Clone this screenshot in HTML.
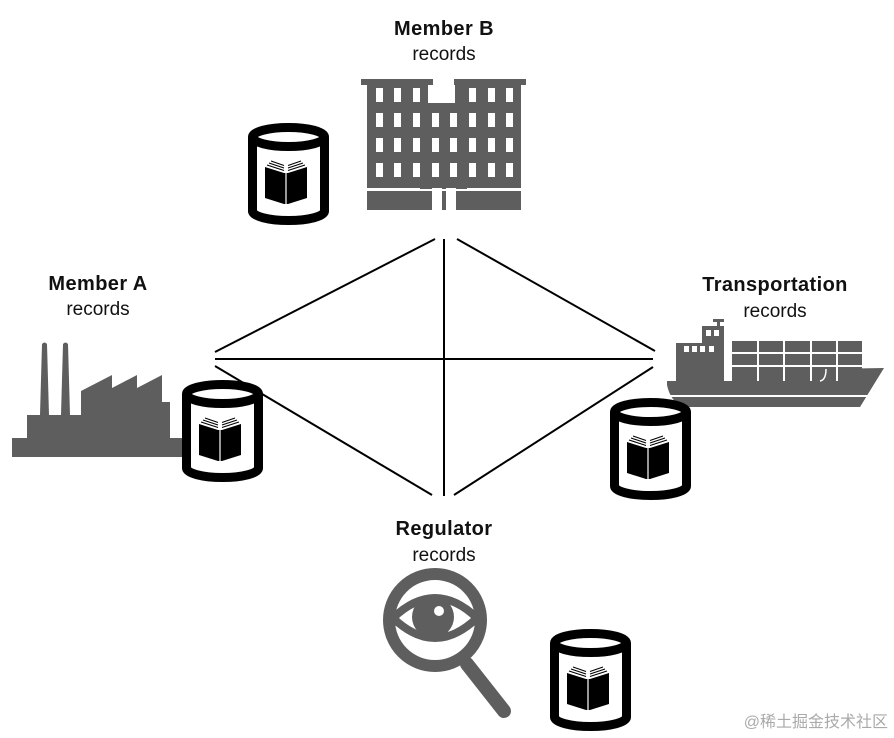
<!DOCTYPE html>
<html><head><meta charset="utf-8"><style>
html,body{margin:0;padding:0;background:#fff;}
svg{display:block;}
text{font-family:"Liberation Sans",Arial,sans-serif;fill:#111;}
.b{font-weight:bold;font-size:20px;letter-spacing:0.4px;}
.r{font-size:19px;}
</style></head><body>
<svg width="894" height="738" viewBox="0 0 894 738" xmlns="http://www.w3.org/2000/svg">
<defs>
<g id="cyl">
  <path d="M4.5 14 V88 A36 9.5 0 0 0 76.5 88 V14" fill="#fff" stroke="#000" stroke-width="9"/>
  <ellipse cx="40.5" cy="14" rx="36" ry="9.5" fill="#fff" stroke="#000" stroke-width="9"/>
  <!-- book -->
  <path d="M17 44 L36 50 L36 81 L17 75 Z" fill="#000"/>
  <path d="M40 50 L59 44 L59 75 L40 81 Z" fill="#000"/>
  <rect x="36" y="50" width="4" height="31" fill="#000"/>
  <rect x="37.4" y="50" width="1.2" height="31" fill="#fff"/>
  <path d="M19 42 L36 47.5 M40 47.5 L57 42" stroke="#000" stroke-width="1.1" fill="none"/>
  <path d="M21 40 L36 45 M40 45 L55 40" stroke="#000" stroke-width="1.1" fill="none"/>
  <path d="M23 38 L36 42.5 M40 42.5 L53 38" stroke="#000" stroke-width="1.1" fill="none"/>
</g>
</defs>

<!-- connectors -->
<g stroke="#000" stroke-width="2" fill="none">
  <line x1="444" y1="239" x2="444" y2="496"/>
  <line x1="435" y1="239" x2="215" y2="352"/>
  <line x1="457" y1="239" x2="655" y2="351"/>
  <line x1="215" y1="359" x2="653" y2="359"/>
  <line x1="215" y1="366" x2="432" y2="495"/>
  <line x1="653" y1="367" x2="454" y2="495"/>
</g>

<!-- labels -->
<text class="b" x="444" y="35" text-anchor="middle">Member B</text>
<text class="r" x="444" y="60" text-anchor="middle">records</text>
<text class="b" x="98" y="290" text-anchor="middle">Member A</text>
<text class="r" x="98" y="315" text-anchor="middle">records</text>
<text class="b" x="775" y="291" text-anchor="middle">Transportation</text>
<text class="r" x="775" y="317" text-anchor="middle">records</text>
<text class="b" x="444" y="535" text-anchor="middle">Regulator</text>
<text class="r" x="444" y="561" text-anchor="middle">records</text>

<!-- building -->
<g fill="#5e5e5e">
  <rect x="361" y="79" width="72" height="6"/>
  <rect x="367" y="84" width="61" height="105"/>
  <rect x="454" y="79" width="72" height="6"/>
  <rect x="455" y="84" width="66" height="105"/>
  <rect x="427" y="103" width="30" height="86"/>
  <rect x="367" y="191" width="154" height="19"/>
</g>
<g fill="#fff">
  <rect x="367" y="188" width="53" height="3"/>
  <rect x="467" y="188" width="54" height="3"/>
  <rect x="432" y="188" width="10" height="22"/>
  <rect x="446" y="188" width="10" height="22"/>
</g>
<g fill="#fff">
  <rect x="376" y="88" width="7" height="14"/><rect x="394" y="88" width="7" height="14"/><rect x="413" y="88" width="7" height="14"/>
  <rect x="469" y="88" width="7" height="14"/><rect x="488" y="88" width="7" height="14"/><rect x="506" y="88" width="7" height="14"/>
  <g id="wrow">
  <rect x="376" y="113" width="7" height="14"/><rect x="394" y="113" width="7" height="14"/><rect x="413" y="113" width="7" height="14"/><rect x="432" y="113" width="7" height="14"/><rect x="450" y="113" width="7" height="14"/><rect x="469" y="113" width="7" height="14"/><rect x="488" y="113" width="7" height="14"/><rect x="506" y="113" width="7" height="14"/>
  </g>
  <use href="#wrow" y="25"/>
  <use href="#wrow" y="50"/>
</g>

<!-- factory -->
<g fill="#5e5e5e">
  <rect x="12" y="438" width="172" height="19"/>
  <rect x="27" y="415" width="143" height="25"/>
  <path d="M40 415 L42 344 Q44.5 341 47 344 L49 415 Z"/>
  <path d="M61 415 L63 344 Q65.5 341 68 344 L70 415 Z"/>
  <path d="M81 416 L81 391 L112 375 L112 388 L137 375 L137 388 L162 375 L162 402 L170 402 L170 416 Z"/>
</g>

<!-- ship -->
<g fill="#5e5e5e">
  <rect x="717" y="319" width="3" height="9"/>
  <rect x="713" y="319" width="11" height="3"/>
  <rect x="702" y="326" width="22" height="18"/>
  <rect x="676" y="343" width="48" height="40"/>
  <rect x="732" y="341" width="130" height="40"/>
  <path d="M667 381 L815 381 Q825 381 826 369 L884 368 L860 407 L682 407 Q670 400 667 385 Z"/>
</g>
<g fill="#fff">
  <rect x="706" y="330" width="5" height="6"/><rect x="714" y="330" width="5" height="6"/>
  <rect x="684" y="346" width="5" height="6"/><rect x="692" y="346" width="5" height="6"/><rect x="700" y="346" width="5" height="6"/><rect x="709" y="346" width="5" height="6"/>
  <rect x="732" y="352" width="130" height="2"/><rect x="732" y="365" width="130" height="2"/>
  <rect x="757" y="341" width="2" height="40"/><rect x="783" y="341" width="2" height="40"/><rect x="810" y="341" width="2" height="40"/><rect x="836" y="341" width="2" height="40"/>
  <rect x="724" y="341" width="8" height="40"/>
  <rect x="670" y="395" width="204" height="2"/>
</g>
<path d="M820 381 Q826 380 826 369" stroke="#fff" stroke-width="1.5" fill="none"/>

<!-- magnifier -->
<g>
  <line x1="467" y1="664" x2="504" y2="711" stroke="#5e5e5e" stroke-width="14" stroke-linecap="round"/>
  <circle cx="435" cy="620" r="46" fill="#fff" stroke="#5e5e5e" stroke-width="12"/>
  <path d="M393 618 Q435 578 477 618 Q435 658 393 618 Z" fill="#fff" stroke="#5e5e5e" stroke-width="8"/>
  <circle cx="433" cy="617" r="21" fill="#5e5e5e"/>
  <circle cx="439" cy="611" r="5" fill="#fff"/>
</g>

<!-- cylinders -->
<use href="#cyl" x="248" y="123"/>
<use href="#cyl" x="182" y="380"/>
<use href="#cyl" x="610" y="398"/>
<use href="#cyl" x="550" y="629"/>

<text x="888" y="727" text-anchor="end" style="font-family:'Liberation Sans','Noto Sans CJK SC',sans-serif;font-size:16px;fill:#aaa;">@稀土掘金技术社区</text>
</svg>
</body></html>
